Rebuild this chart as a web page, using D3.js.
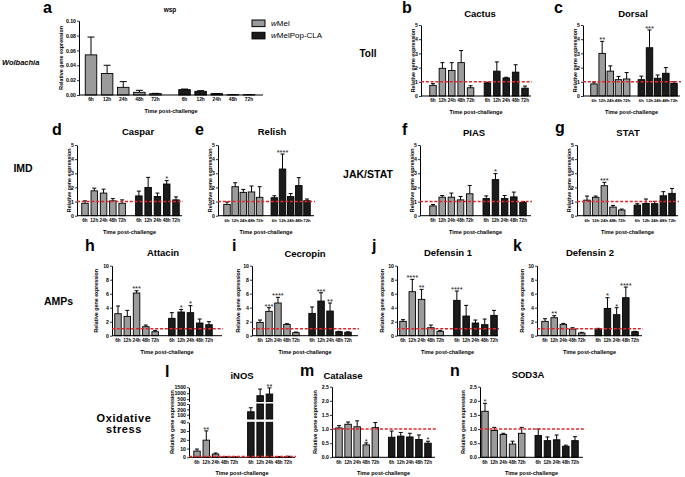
<!DOCTYPE html>
<html><head><meta charset="utf-8">
<script src="https://cdn.jsdelivr.net/npm/d3@7"></script>
<style>
body{margin:0;background:#fff}
svg{display:block}
text{font-family:"Liberation Sans",Arial,Helvetica,sans-serif}
</style>
</head><body>
<svg id="chart" width="685" height="477"></svg>
<script>
// ---------------- DATA ----------------
const times = ["6h","12h","24h","48h","72h"];
const strains = ["wMel","wMelPop-CLA"];

const wspMel = [0.054, 0.029, 0.0103, 0.0036, 0.0018];
const wspMelErr = [0.024, 0.011, 0.0077, 0.0027, 0.0004];
const wspPop = [0.0072, 0.0049, 0.0018, 0.0004, 0.0004];
const wspPopErr = [0.0008, 0.0009, 0.0002, 0.0001, 0.0001];

const cactusMel = [0.75, 1.95, 1.8, 2.35, 0.58];
const cactusMelErr = [0.12, 0.4, 0.55, 0.85, 0.14];
const cactusPop = [0.92, 1.75, 1.27, 1.68, 0.55];
const cactusPopErr = [0.05, 0.65, 0.05, 0.52, 0.15];

const dorsalMel = [0.85, 3.0, 1.75, 1.15, 1.2];
const dorsalMelErr = [0.13, 0.85, 0.37, 0.23, 0.45];
const dorsalPop = [1.15, 3.4, 1.25, 1.6, 0.88];
const dorsalPopErr = [0.25, 1.25, 0.23, 0.4, 0.12];
const dorsalMelStars = ["", "**", "", "", ""];
const dorsalPopStars = ["", "***", "", "", ""];

const casparMel = [0.88, 1.76, 1.6, 1.05, 0.88];
const casparMelErr = [0.17, 0.19, 0.28, 0.16, 0.24];
const casparPop = [1.4, 2.0, 1.36, 2.24, 1.12];
const casparPopErr = [0.34, 0.71, 0.24, 0.24, 0.21];
const casparPopStars = ["", "", "", "*", ""];

const relishMel = [0.8, 2.05, 1.65, 1.68, 1.3];
const relishMelErr = [0.17, 0.28, 0.21, 0.42, 0.75];
const relishPop = [1.27, 3.3, 1.35, 2.13, 1.06];
const relishPopErr = [0.14, 1.06, 0.22, 0.56, 0.12];
const relishPopStars = ["", "****", "", "", ""];

const piasMel = [0.69, 1.31, 1.31, 1.12, 1.55];
const piasMelErr = [0.1, 0.12, 0.29, 0.24, 0.59];
const piasPop = [1.21, 2.55, 1.21, 1.33, 0.93];
const piasPopErr = [0.19, 0.43, 0.22, 0.34, 0.07];
const piasPopStars = ["", "*", "", "", ""];

const statMel = [1.1, 1.3, 2.12, 0.61, 0.4];
const statMelErr = [0.29, 0.09, 0.24, 0.12, 0.07];
const statPop = [0.75, 0.87, 0.85, 1.41, 1.58];
const statPopErr = [0.1, 0.31, 0.16, 0.29, 0.35];
const statMelStars = ["", "", "***", "", ""];

const attacinMel = [3.14, 2.76, 6.1, 1.29, 0.57];
const attacinMelErr = [1.1, 0.86, 0.33, 0.23, 0.19];
const attacinPop = [2.48, 3.38, 3.29, 1.81, 1.57];
const attacinPopErr = [0.81, 0.38, 1.0, 0.57, 0.43];
const attacinMelStars = ["", "", "***", "", ""];
const attacinPopStars = ["", "*", "*", "", ""];

const cecropinMel = [1.9, 3.48, 4.67, 1.62, 0.43];
const cecropinMelErr = [0.34, 0.52, 0.81, 0.09, 0.09];
const cecropinPop = [3.19, 4.95, 3.52, 0.57, 0.5];
const cecropinPopErr = [0.91, 1.19, 1.15, 0.05, 0.05];
const cecropinMelStars = ["", "***", "****", "", ""];
const cecropinPopStars = ["", "***", "**", "", ""];

const defensin1Mel = [2.05, 6.29, 5.19, 1.14, 0.62];
const defensin1MelErr = [0.24, 1.76, 1.43, 0.38, 0.14];
const defensin1Pop = [5.05, 2.81, 1.81, 1.57, 2.9];
const defensin1PopErr = [1.33, 1.52, 0.43, 0.81, 0.72];
const defensin1MelStars = ["", "****", "**", "", ""];
const defensin1PopStars = ["****", "", "", "", ""];

const defensin2Mel = [2.05, 2.57, 1.62, 0.95, 0.38];
const defensin2MelErr = [0.38, 0.29, 0.14, 0.19, 0.1];
const defensin2Pop = [0.95, 3.9, 3.0, 5.43, 0.57];
const defensin2PopErr = [0.1, 1.53, 1.0, 1.52, 0.05];
const defensin2MelStars = ["", "**", "", "", ""];
const defensin2PopStars = ["", "*", "*", "****", ""];

const inosMel = [7.1, 19.6, 3.7, 0.4, 0.3];
const inosMelErr = [2.3, 10.6, 1.2, 0.2, 0.2];
const inosPop = [155, 790, 930, 0.4, 0.8];
const inosPopErr = [75, 560, 520, 0.2, 0.4];
const inosMelStars = ["", "**", "", "", ""];
const inosPopStars = ["", "", "**", "", ""];

const catalaseMel = [1.04, 1.17, 1.08, 0.44, 1.05];
const catalaseMelErr = [0.08, 0.08, 0.21, 0.07, 0.18];
const catalasePop = [0.71, 0.75, 0.72, 0.63, 0.5];
const catalasePopErr = [0.22, 0.13, 0.13, 0.16, 0.07];
const catalaseMelStars = ["", "", "", "*", ""];
const catalasePopStars = ["", "", "", "", "*"];

const sod3aMel = [1.63, 0.95, 0.81, 0.47, 0.85];
const sod3aMelErr = [0.28, 0.11, 0.04, 0.1, 0.21];
const sod3aPop = [0.77, 0.59, 0.62, 0.39, 0.59];
const sod3aPopErr = [0.23, 0.13, 0.17, 0.04, 0.14];
const sod3aMelStars = ["*", "", "", "", ""];

const ticksWsp = [0, 0.02, 0.04, 0.06, 0.08, 0.10];
const ticks5 = [0, 1, 2, 3, 4, 5];
const ticks10 = [0, 2, 4, 6, 8, 10];
const ticks25 = [0, 0.5, 1.0, 1.5, 2.0, 2.5];
const inosSegments = [
  {domain: [0, 40], ticks: [0, 10, 20, 30, 40]},
  {domain: [20, 300], ticks: [100, 200, 300]},
  {domain: [300, 1500], ticks: [500, 1000, 1500]}
];
const rowLabels = [
  {lines: ["Wolbachia"]}, {lines: ["Toll"]}, {lines: ["IMD"]},
  {lines: ["JAK/STAT"]}, {lines: ["AMPs"]}, {lines: ["Oxidative", "stress"]}
];

// ---------------- LAYOUT / STYLE ----------------
const GRAY = "#9b9b9b", BLACK = "#1b1b1b", RED = "#e3242b";
const R1 = {y0: 96, yTop: 25}, R2 = {y0: 215.7, yTop: 145}, R3 = {y0: 335.7, yTop: 265.7}, R4 = {y0: 457.3, yTop: 386.7};
const E = ["", "", "", "", ""];

const panels = [
  {L: "a", title: "wsp", ts: 6.5, tx: 170, ty: 12, lx: 43, ly: 13.3, x0: 79, x1: 263, xf: 91, xl: 249, y0: 95, yTop: 20.7, bw: 11.5, cap: 7, off: 18,
   ymax: 0.1, ticks: ticksWsp, fmt: ".2f", ref: false, mel: wspMel, melE: wspMelErr, pop: wspPop, popE: wspPopErr, mS: E, pS: E},
  {L: "b", title: "Cactus", tx: 480, ty: 16.8, lx: 402, ly: 13.3, x0: 421, x1: 531, xf: 433, xl: 525, ...R1, off: 7.7,
   ymax: 5, ticks: ticks5, fmt: "d", mel: cactusMel, melE: cactusMelErr, pop: cactusPop, popE: cactusPopErr, mS: E, pS: E},
  {L: "c", title: "Dorsal", tx: 633, ty: 16.8, lx: 554, ly: 13.3, x0: 583, x1: 680, xf: 594, xl: 674, ...R1, off: 7.7,
   ymax: 5, ticks: ticks5, fmt: "d", mel: dorsalMel, melE: dorsalMelErr, pop: dorsalPop, popE: dorsalPopErr, mS: dorsalMelStars, pS: dorsalPopStars},
  {L: "d", title: "Caspar", tx: 138, ty: 135, lx: 52, ly: 135, x0: 77, x1: 182, xf: 85, xl: 176, ...R2, off: 7.7,
   ymax: 5, ticks: ticks5, fmt: "d", mel: casparMel, melE: casparMelErr, pop: casparPop, popE: casparPopErr, mS: E, pS: casparPopStars},
  {L: "e", title: "Relish", tx: 272, ty: 135, lx: 195, ly: 135, x0: 218, x1: 314, xf: 227, xl: 307, ...R2, off: 7.7,
   ymax: 5, ticks: ticks5, fmt: "d", mel: relishMel, melE: relishMelErr, pop: relishPop, popE: relishPopErr, mS: E, pS: relishPopStars},
  {L: "f", title: "PIAS", tx: 474, ty: 136, lx: 402, ly: 135, x0: 420, x1: 531, xf: 433, xl: 523, ...R2, off: 7.7,
   ymax: 5, ticks: ticks5, fmt: "d", mel: piasMel, melE: piasMelErr, pop: piasPop, popE: piasPopErr, mS: E, pS: piasPopStars},
  {L: "g", title: "STAT", tx: 628, ty: 136, lx: 555, ly: 133, x0: 577, x1: 678, xf: 587, xl: 672, ...R2, off: 7.7,
   ymax: 5, ticks: ticks5, fmt: "d", mel: statMel, melE: statMelErr, pop: statPop, popE: statPopErr, mS: statMelStars, pS: E},
  {L: "h", title: "Attacin", tx: 163, ty: 255.5, lx: 85, ly: 251, x0: 112, x1: 222, xf: 118, xl: 209, ...R3, off: 16,
   ymax: 10, ticks: ticks10, fmt: "d", mel: attacinMel, melE: attacinMelErr, pop: attacinPop, popE: attacinPopErr, mS: attacinMelStars, pS: attacinPopStars},
  {L: "i", title: "Cecropin", tx: 305, ty: 256.5, lx: 232, ly: 251, x0: 252, x1: 358, xf: 260, xl: 348, ...R3, off: 14,
   ymax: 10, ticks: ticks10, fmt: "d", mel: cecropinMel, melE: cecropinMelErr, pop: cecropinPop, popE: cecropinPopErr, mS: cecropinMelStars, pS: cecropinPopStars},
  {L: "j", title: "Defensin 1", tx: 448, ty: 255.5, lx: 372, ly: 251, x0: 397, x1: 498, xf: 403, xl: 494, ...R3, off: 15,
   ymax: 10, ticks: ticks10, fmt: "d", mel: defensin1Mel, melE: defensin1MelErr, pop: defensin1Pop, popE: defensin1PopErr, mS: defensin1MelStars, pS: defensin1PopStars},
  {L: "k", title: "Defensin 2", tx: 590, ty: 255.5, lx: 513, ly: 251, x0: 537, x1: 642, xf: 545, xl: 635, ...R3, off: 15,
   ymax: 10, ticks: ticks10, fmt: "d", mel: defensin2Mel, melE: defensin2MelErr, pop: defensin2Pop, popE: defensin2PopErr, mS: defensin2MelStars, pS: defensin2PopStars},
  {L: "l", title: "iNOS", tx: 242, ty: 379, lx: 165, ly: 377, x0: 189, x1: 295, xf: 197, xl: 288, ...R4, off: 17, broken: true,
   segRanges: [[457.3, 422.3], [419, 404], [401.5, 387.3]],
   mel: inosMel, melE: inosMelErr, pop: inosPop, popE: inosPopErr, mS: inosMelStars, pS: inosPopStars},
  {L: "m", title: "Catalase", tx: 343, ty: 378.5, lx: 300, ly: 376, x0: 332, x1: 435, xf: 339, xl: 428, ...R4, off: 17,
   ymax: 2.5, ticks: ticks25, fmt: ".1f", mel: catalaseMel, melE: catalaseMelErr, pop: catalasePop, popE: catalasePopErr, mS: catalaseMelStars, pS: catalasePopStars},
  {L: "n", title: "SOD3A", tx: 528, ty: 377.5, lx: 450, ly: 376, x0: 480, x1: 583, xf: 485, xl: 575, ...R4, off: 17,
   ymax: 2.5, ticks: ticks25, fmt: ".1f", mel: sod3aMel, melE: sod3aMelErr, pop: sod3aPop, popE: sod3aPopErr, mS: sod3aMelStars, pS: E}
];
const rowLabelPos = [
  {x: 2, y: 65, anchor: "start", size: 7.5, italic: true},
  {x: 368, y: 57.3, anchor: "middle", size: 10},
  {x: 23, y: 171.7, anchor: "middle", size: 10.5},
  {x: 368, y: 177.5, anchor: "middle", size: 10.5},
  {x: 58.5, y: 304.7, anchor: "middle", size: 10.5},
  {x: 124, y: 421.7, anchor: "middle", size: 11, dy: 11.6}
];

// ---------------- DRAW ----------------
const svg = d3.select("#chart");

rowLabels.forEach((r, i) => {
  const p = rowLabelPos[i];
  r.lines.forEach((ln, k) => {
    svg.append("text").attr("x", p.x).attr("y", p.y + k * (p.dy || 0))
      .attr("text-anchor", p.anchor).attr("font-size", p.size).attr("font-weight", "bold")
      .attr("font-style", p.italic ? "italic" : "normal").attr("letter-spacing", i === 5 ? 0.6 : 0)
      .text(ln);
  });
});

// legend
const leg = svg.append("g");
strains.forEach((s, i) => {
  const yy = 20 + i * 12.3;
  leg.append("rect").attr("x", 252).attr("y", yy).attr("width", 13).attr("height", 6.6)
    .attr("fill", i === 0 ? GRAY : BLACK).attr("stroke", "#000").attr("stroke-width", 1);
  const t = leg.append("text").attr("x", 271).attr("y", yy + 6).attr("font-size", 8);
  t.append("tspan").attr("font-style", "italic").text(s.slice(0, 1));
  t.append("tspan").text(s.slice(1));
});

function drawPanel(p) {
  const g = svg.append("g");
  const xs = d3.scaleLinear().domain([0, 9.8]).range([p.xf, p.xl]);
  const slot = i => (i < 5 ? i : i + 0.8);
  const bw = p.bw || 6.5, cap = p.cap || 4;
  const step = (p.xl - p.xf) / 9.8;
  const xlabSize = p.L === "a" ? 4.8 : Math.max(4.25, Math.min(4.6, step * 0.5));

  let yv, segs = null;
  if (p.broken) {
    segs = inosSegments.map((s, k) => ({...s, sc: d3.scaleLinear().domain(s.domain).range(p.segRanges[k])}));
    yv = v => { const s = segs.find(s => v <= s.domain[1]) || segs[segs.length - 1]; return s.sc(Math.max(v, s.domain[0])); };
  } else {
    const y = d3.scaleLinear().domain([0, p.ymax]).range([p.y0, p.yTop]);
    yv = y;
    segs = [{domain: [0, p.ymax], ticks: p.ticks, sc: y, fmt: p.fmt}];
  }

  g.append("text").attr("x", p.lx).attr("y", p.ly).attr("font-size", 16).attr("font-weight", "bold").text(p.L);
  g.append("text").attr("x", p.tx).attr("y", p.ty).attr("text-anchor", "middle")
    .attr("font-size", p.ts || 9.5).attr("font-weight", "bold").text(p.title);

  segs.forEach(s => {
    const ax = d3.axisLeft(s.sc).tickValues(s.ticks).tickSize(2).tickSizeOuter(0).tickPadding(1)
      .tickFormat(d3.format(s.fmt || "d"));
    const a = g.append("g").attr("transform", `translate(${p.x0},0)`).call(ax);
    a.select(".domain").attr("stroke", "#000").attr("stroke-width", 1);
    a.selectAll(".tick line").attr("stroke", "#000").attr("stroke-width", 0.8);
    a.selectAll(".tick text").attr("font-size", 5.2).attr("font-weight", "bold").attr("fill", "#000")
      .attr("font-family", "Liberation Sans, Arial, sans-serif");
  });

  const yMid = (p.y0 + p.yTop) / 2;
  g.append("text").attr("transform", `translate(${p.x0 - p.off},${yMid}) rotate(-90)`)
    .attr("text-anchor", "middle").attr("dy", "0.35em").attr("font-size", 5.3).attr("font-weight", "bold")
    .text("Relative gene expression");

  const all = [];
  p.mel.forEach((v, i) => all.push({v, e: p.melE[i], s: p.mS[i], i, c: GRAY}));
  p.pop.forEach((v, i) => all.push({v, e: p.popE[i], s: p.pS[i], i: i + 5, c: BLACK}));

  all.forEach(d => {
    const cx = xs(slot(d.i));
    if (p.broken) {
      segs.forEach((s, k) => {
        if (d.v <= s.domain[0] && k > 0) return;
        const lo = k === 0 ? 0 : s.domain[0];
        const hi = Math.min(d.v, s.domain[1]);
        const yb = s.sc(lo), yt = s.sc(hi);
        g.append("rect").attr("x", cx - bw / 2).attr("y", yt).attr("width", bw).attr("height", Math.max(0, yb - yt))
          .attr("fill", d.c).attr("stroke", "#000").attr("stroke-width", 0.9);
      });
    } else {
      const yt = yv(d.v);
      g.append("rect").attr("x", cx - bw / 2).attr("y", yt).attr("width", bw).attr("height", p.y0 - yt)
        .attr("fill", d.c).attr("stroke", "#000").attr("stroke-width", 0.9);
    }
    const ye = yv(d.v + d.e), yt = yv(d.v);
    g.append("line").attr("x1", cx).attr("x2", cx).attr("y1", yt).attr("y2", ye).attr("stroke", "#000").attr("stroke-width", 1);
    g.append("line").attr("x1", cx - cap / 2).attr("x2", cx + cap / 2).attr("y1", ye).attr("y2", ye).attr("stroke", "#000").attr("stroke-width", 1);
    if (d.s) {
      g.append("text").attr("x", cx).attr("y", ye + 0.8).attr("text-anchor", "middle").attr("font-size", 7.5)
        .attr("fill", "#222").text(d.s);
    }
    g.append("text").attr("x", cx).attr("y", p.y0 + 6.3).attr("text-anchor", "middle")
      .attr("font-size", xlabSize).attr("font-weight", "bold").text(times[d.i % 5]);
  });

  g.append("line").attr("x1", p.x0).attr("x2", p.x1).attr("y1", p.y0).attr("y2", p.y0).attr("stroke", "#000").attr("stroke-width", 1);

  if (p.ref !== false) {
    const yr = yv(1);
    g.append("line").attr("x1", p.x0).attr("x2", p.x1 + 1).attr("y1", yr).attr("y2", yr)
      .attr("stroke", RED).attr("stroke-width", 1.4).attr("stroke-dasharray", "3,1.8");
  }

  g.append("text").attr("x", (p.x0 + p.x1) / 2).attr("y", p.y0 + 18).attr("text-anchor", "middle")
    .attr("font-size", 5.5).attr("font-weight", "bold").text("Time post-challenge");
}

panels.forEach(drawPanel);
</script>
</body></html>
